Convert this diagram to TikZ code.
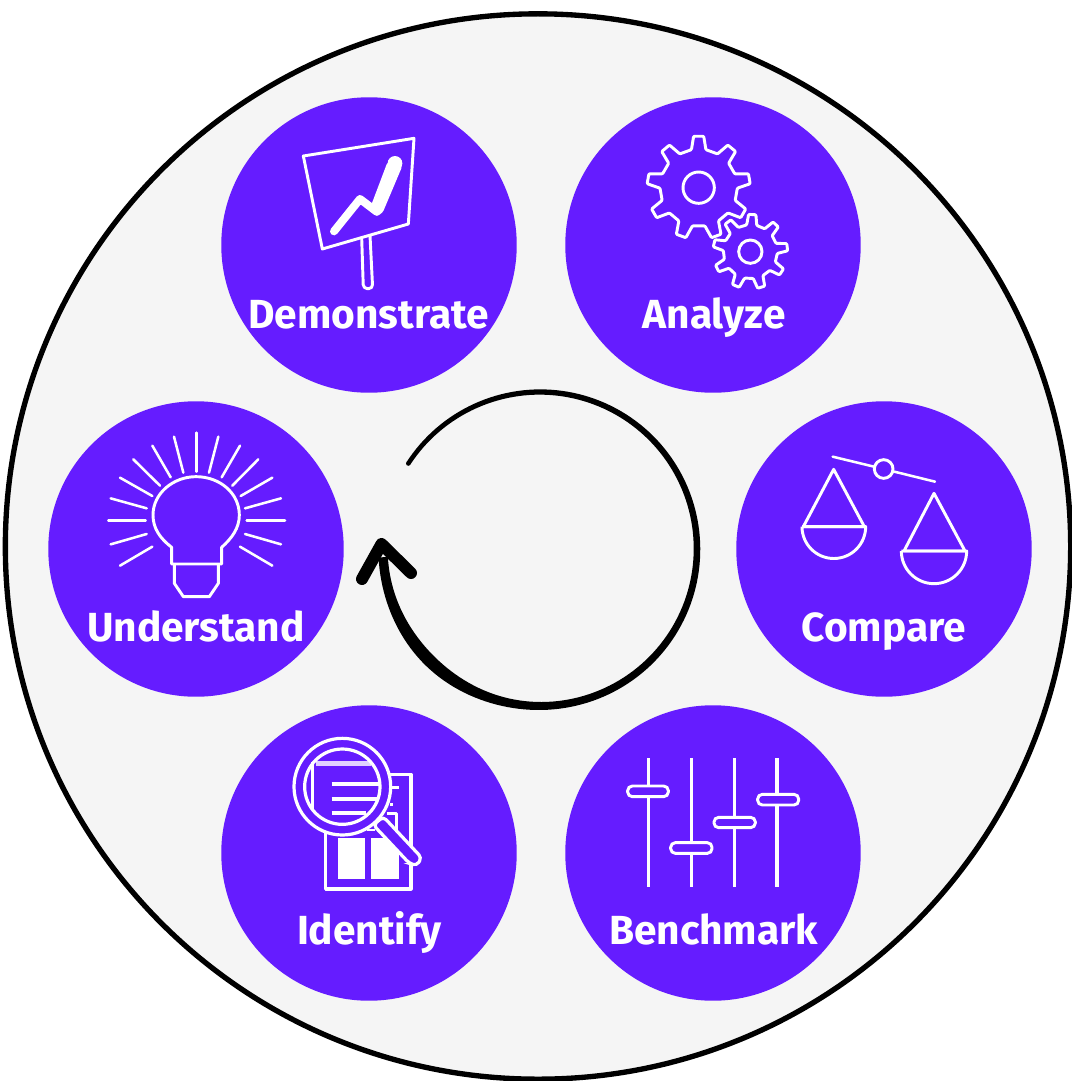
\documentclass[tikz,border=0pt]{standalone}
\usepackage{fontspec}
\setmainfont{Fira Sans}
\definecolor{vio}{HTML}{651CFF}
\definecolor{paper}{HTML}{F5F5F5}
\tikzset{
  px/.style={x=0.75pt,y=-0.75pt},
  disc/.style={circle,fill=vio,draw=none,minimum size=221.6pt,inner sep=0pt},
  lab/.style={anchor=base,text=white,inner sep=0pt,font=\fontsize{30.5pt}{32pt}\selectfont\bfseries},
  icon/.style={draw=white,line width=2.2pt,line join=round},
  thin icon/.style={draw=white,line width=1.9pt,line cap=round,line join=round},
  zoomed/.style={shift={(#1)},x=0.25pt,y=-0.25pt},
}
\newcommand{\gearshape}[6]{% cx cy R r n phase
  \pgfmathsetmacro{\gp}{360/#5}
  \draw[icon,fill=vio,rounded corners=0.7pt]
    ({#1+#4*cos(#6+0.27*\gp)},{#2-#4*sin(#6+0.27*\gp)})
    \foreach \k in {1,...,#5}{
      -- ({#1+#3*cos(#6-(\k-1)*\gp+0.14*\gp)},{#2-#3*sin(#6-(\k-1)*\gp+0.14*\gp)})
      -- ({#1+#3*cos(#6-(\k-1)*\gp-0.14*\gp)},{#2-#3*sin(#6-(\k-1)*\gp-0.14*\gp)})
      -- ({#1+#4*cos(#6-(\k-1)*\gp-0.27*\gp)},{#2-#4*sin(#6-(\k-1)*\gp-0.27*\gp)})
      -- ({#1+#4*cos(#6-\k*\gp+0.27*\gp)},{#2-#4*sin(#6-\k*\gp+0.27*\gp)})
    } -- cycle;
}
\begin{document}
\begin{tikzpicture}[px,declare function={wd(\a)=4.5+4.5*((147-\a)/324)+4*exp(-(((147-\a)/324-0.87)/0.08)^2);}]
\useasboundingbox (0,0) rectangle (1071,1081);
\fill[white] (0,0) rectangle (1071,1081);
\node[circle,draw=black,fill=paper,line width=4pt,minimum size=799pt,inner sep=0pt] (outer) at (538,546.5) {};

\node[disc] (demo) at (369,245) {};
\node[disc] (ana) at (713,245) {};
\node[disc] (und) at (196,549) {};
\node[disc] (cmp) at (884,549) {};
\node[disc] (ide) at (369,853) {};
\node[disc] (ben) at (713,853) {};

\node[lab] (tdemo) at (368.5,328) {Demonstrate};
\node[lab] (tana) at (714,328.5) {Analyze};
\node[lab] (tund) at (196,641) {Understand};
\node[lab] (tcmp) at (883.7,641) {Compare};
\node[lab] (tide) at (369.5,944) {Identify};
\node[lab] (tben) at (713.7,944) {Benchmark};

% cycle arrow
\fill[black]
  plot[domain=147:-177,samples=160] ({540+(157+wd(\x)/2)*cos(\x)},{549-(157+wd(\x)/2)*sin(\x)})
  -- plot[domain=-177:147,samples=160] ({540+(157-wd(\x)/2)*cos(\x)},{549-(157-wd(\x)/2)*sin(\x)})
  -- cycle;
\fill[black] (408.3,463.5) circle[radius=2.3];
\coordinate (tip) at (381.5,544);
\coordinate (barbL) at (362,579);
\coordinate (barbR) at (411,573);
\draw[black,line width=9pt,line cap=round,line join=round] (barbL) -- (tip) -- (barbR);

% Demonstrate icon
\begin{scope}[zoomed={220,100}]
  \draw[icon] (250,168) -- (582,115) -- (565,372) -- (307,447) -- cycle;
  \draw[icon,rounded corners=3pt] (425,412) -- (430,566) -- (458,566) -- (450,406);
  \draw[white,line width=6pt,line cap=round,line join=round] (342,394) -- (420,297) -- (470,335);
  \fill[white,rounded corners=2pt] (450,325) -- (503,185) -- (547,198) -- (488,338) -- (468,350) -- cycle;
  \fill[white] (525,190) circle[radius=22];
\end{scope}

% Analyze icon
\begin{scope}[zoomed={565,100}]
  \gearshape{401}{263}{155}{116}{9}{90}
  \draw[icon] (401,263) circle[radius=47];
  \gearshape{556}{455}{112}{81}{9}{87}
  \draw[icon] (556,455) circle[radius=35];
\end{scope}

% Understand icon
\begin{scope}[zoomed={45,400}]
  \foreach \xa/\ya/\xb/\yb in {455/98/455/215,520/110/492/218,585/137/530/232,640/178/562/257,682/233/587/288,708/295/600/325,720/362/605/362,708/433/600/402,682/497/585/440,387/110/415/218,322/137/377/232,265/178/345/257,225/233/322/288,197/295/305/325,190/362/302/362,197/433/305/402,225/497/322/440}
    \draw[thin icon] (\xa,\ya) -- (\xb,\yb);
  \draw[icon] (380,492) -- (380,442) .. controls (345,415) and (324,385) .. (324,345) .. controls (324,280) and (385,230) .. (453,230) .. controls (525,230) and (583,280) .. (583,345) .. controls (583,385) and (560,415) .. (530,442) -- (530,492) -- cycle;
  \draw[icon] (388,495) -- (388,550) -- (415,590) -- (493,590) -- (520,550) -- (520,495);
\end{scope}

% Compare icon
\begin{scope}[zoomed={735,400}]
  \draw[thin icon] (293,170) -- (417,200);
  \draw[thin icon] (478,215) -- (600,245);
  \draw[icon] (446,207) circle[radius=28];
  \draw[icon] (296,208) -- (205,380) -- (388,380) -- cycle;
  \draw[icon] (201,380) -- (392,380) arc[start angle=0,end angle=180,radius=95.5];
  \draw[icon] (597,280) -- (507,453) -- (690,453) -- cycle;
  \draw[icon] (499,453) -- (695,453) arc[start angle=0,end angle=180,radius=98];
\end{scope}

% Identify icon
\begin{scope}[zoomed={220,705}]
  \draw[icon,line width=2.4pt] (510,208) -- (573,208) -- (573,552) -- (317,552) -- (317,385);
  \fill[white] (353,400) rectangle (435,522);
  \fill[white] (453,400) rectangle (537,522);
  \draw[icon] (500,325) -- (530,325) -- (530,400);
  \draw[icon] (515,247) -- (537,247);
  \draw[icon] (510,298) -- (520,298);
  \draw[icon] (440,375) -- (465,375);
  \draw[draw=white,line width=2.4pt,fill=vio,rounded corners=3pt] (490,335) -- (605,458) -- (590,482) -- (568,475) -- (460,360) -- cycle;
  \draw[draw=white,line width=2.4pt,fill=vio] (367,245) circle[radius=145];
  \draw[draw=white,line width=2.4pt,fill=vio] (367,245) circle[radius=113];
  \fill[white,opacity=0.8] (288,167) rectangle (452,183);
  \draw[icon] (278,172) -- (278,312);
  \draw[draw=white,line width=3pt] (335,238) -- (480,238);
  \draw[draw=white,line width=3pt] (335,282) -- (472,282);
  \draw[draw=white,line width=3pt] (335,325) -- (437,325);
\end{scope}

% Benchmark icon
\begin{scope}[zoomed={565,705}]
  \foreach \xx in {250,379,508,636}
    \draw[draw=white,line width=2.5pt] (\xx,160) -- (\xx,545);
  \foreach \xa/\ya/\xb/\yb in {188/243/310/275,317/413/441/445,447/337/571/368,578/268/701/300}
    \draw[draw=white,line width=2.2pt,fill=vio,rounded corners=3.5pt] (\xa,\ya) rectangle (\xb,\yb);
\end{scope}
\end{tikzpicture}
\end{document}
